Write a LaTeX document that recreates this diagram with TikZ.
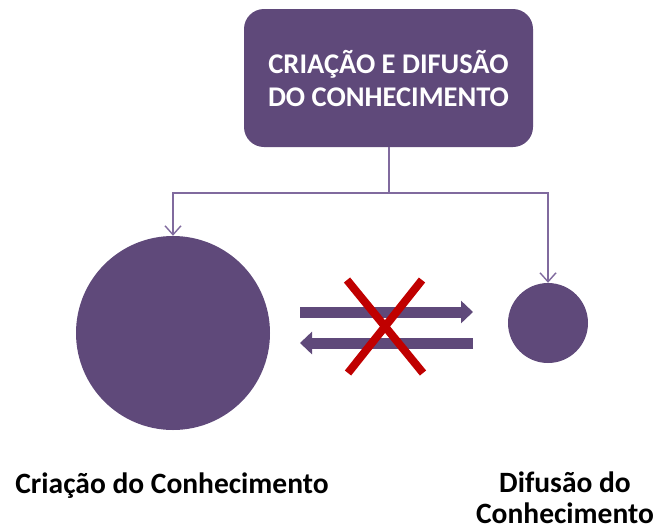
\documentclass[tikz,border=0pt]{standalone}
\usepackage{fontspec}
\setmainfont{Carlito}
\usetikzlibrary{arrows.meta}
\definecolor{purp}{RGB}{95,73,122}
\definecolor{linep}{RGB}{128,106,158}
\definecolor{redx}{RGB}{192,0,0}
\tikzset{
  topbox/.style={fill=purp, rounded corners=20pt, minimum width=289pt, minimum height=138pt, inner sep=0pt, text=white, font=\bfseries\fontsize{28.5}{33}\selectfont, align=center},
  blob/.style={circle, fill=purp, inner sep=0pt},
  conn/.style={draw=linep, line width=1.6pt, -{Straight Barb[length=9pt,width=16pt,line width=1.4pt]}},
  fat/.style={draw=purp, line width=11pt, -{Triangle[length=12pt,width=22pt]}},
  cross/.style={draw=redx, line width=8pt},
  lab/.style={font=\bfseries\fontsize{29.5}{30}\selectfont, inner sep=0pt, anchor=base}
}
\begin{document}
\begin{tikzpicture}[x=1pt,y=-1pt]
\useasboundingbox (0,0) rectangle (658,531);
\node[topbox] (top) at (388.5,78) {CRIAÇÃO E DIFUSÃO\\DO CONHECIMENTO};
\node[blob, minimum size=194pt] (big) at (173,333) {};
\node[blob, minimum size=80pt] (small) at (548,323) {};
\coordinate (junc) at (389,193);
\draw[linep, line width=1.6pt] (top.south -| junc) -- (junc);
\draw[conn] (junc) -| (big.north);
\draw[conn] (junc) -| (small.north);
\coordinate (ra) at (300,312);
\coordinate (rb) at (473,312);
\coordinate (la) at (473,343);
\coordinate (lb) at (300,343);
\draw[fat] (ra) -- (rb);
\draw[fat] (la) -- (lb);
\coordinate (x1) at (347,280);
\coordinate (x2) at (423,373);
\coordinate (x3) at (422,280);
\coordinate (x4) at (348,373);
\draw[cross] (x1) -- (x2);
\draw[cross] (x3) -- (x4);
\node[lab] (lcria) at (172,493) {Criação do Conhecimento};
\node[lab] (ldif1) at (565,492) {Difusão do};
\node[lab] (ldif2) at (565,523.5) {Conhecimento};
\end{tikzpicture}
\end{document}
